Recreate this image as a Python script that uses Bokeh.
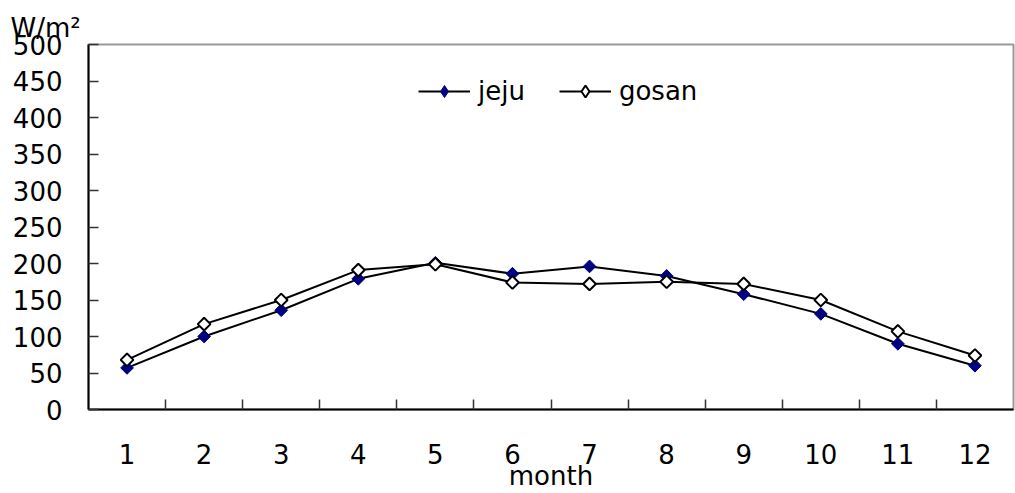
import math
from bokeh.plotting import figure
from bokeh.models import FixedTicker, Range1d, Legend, LegendItem
from bokeh.embed import file_html
from bokeh.resources import INLINE

months = [1, 2, 3, 4, 5, 6, 7, 8, 9, 10, 11, 12]
jeju = [57, 100, 136, 179, 201, 186, 196, 183, 158, 131, 90, 60]
gosan = [68, 117, 150, 191, 199, 174, 172, 175, 172, 150, 107, 74]
y_ticks = [0, 50, 100, 150, 200, 250, 300, 350, 400, 450, 500]
x_bounds = [m + 0.5 for m in months[:-1]]

FONT = "DejaVu Sans"
FS = "26px"

p = figure(width=1015, height=493, output_backend="svg", toolbar_location=None,
           x_range=Range1d(0.5, 12.5), y_range=Range1d(0, 500),
           min_border_left=88, min_border_right=2, min_border_top=44, min_border_bottom=82,
           title="W/m²")
p.background_fill_color = "white"
p.border_fill_color = "white"
p.outline_line_color = "#999999"
p.outline_line_width = 2
p.grid.visible = False

p.title.text_font = FONT
p.title.text_font_size = FS
p.title.text_font_style = "normal"
p.title.text_color = "black"
p.title.align = "left"
p.title.offset = -78
p.title.standoff = 3

xa = p.xaxis[0]
xa.ticker = FixedTicker(ticks=months, minor_ticks=x_bounds)
xa.major_tick_line_color = None
xa.minor_tick_in = 10
xa.minor_tick_out = 0
xa.minor_tick_line_color = "#333333"
xa.minor_tick_line_width = 1.5
xa.axis_line_color = "black"
xa.axis_line_width = 2
xa.major_label_standoff = 28
xa.major_label_text_font = FONT
xa.major_label_text_font_size = FS
xa.major_label_text_color = "black"
xa.axis_label = "month"
xa.axis_label_text_font = FONT
xa.axis_label_text_font_size = FS
xa.axis_label_text_font_style = "normal"
xa.axis_label_text_color = "black"
xa.axis_label_standoff = -6

ya = p.yaxis[0]
ya.ticker = FixedTicker(ticks=y_ticks)
ya.minor_tick_line_color = None
ya.major_tick_in = 10
ya.major_tick_out = 0
ya.major_tick_line_color = "#333333"
ya.major_tick_line_width = 1.5
ya.axis_line_color = "black"
ya.axis_line_width = 2
ya.major_label_standoff = 26
ya.major_label_text_font = FONT
ya.major_label_text_font_size = FS
ya.major_label_text_color = "black"

A = math.pi / 4
l1 = p.line(months, jeju, line_color="black", line_width=2)
s1 = p.scatter(months, jeju, marker="square", angle=A, size=9, fill_color="#000080", line_color="#000080")
l2 = p.line(months, gosan, line_color="black", line_width=2)
s2 = p.scatter(months, gosan, marker="square", angle=A, size=9, fill_color="white", line_color="black", line_width=2)

# legend-only marker glyphs (legend glyphs ignore marker angle); NaN = not drawn in plot
k1 = p.scatter(x=[math.nan], y=[math.nan], marker="diamond", fill_color="#000080", line_color="#000080")
k2 = p.scatter(x=[math.nan], y=[math.nan], marker="diamond", fill_color="white", line_color="black", line_width=2)

legend = Legend(items=[LegendItem(label="jeju", renderers=[l1, k1]),
                       LegendItem(label="gosan", renderers=[l2, k2])],
                orientation="horizontal", location=(330, 303),
                border_line_color=None, background_fill_alpha=0,
                label_text_font=FONT, label_text_font_size=FS, label_text_color="black",
                glyph_width=52, glyph_height=30, label_standoff=8, spacing=34, padding=4, margin=0)
p.add_layout(legend, "center")

open("out.html", "w").write(file_html(p, INLINE))
